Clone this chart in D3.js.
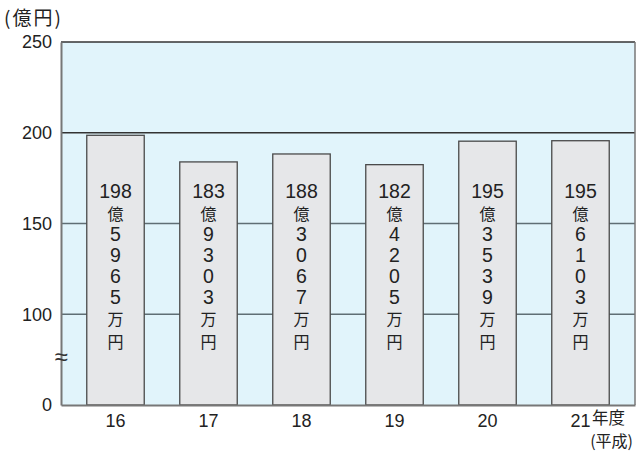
<!DOCTYPE html>
<html><head><meta charset="utf-8">
<script src="https://cdn.jsdelivr.net/npm/d3@7"></script>
<style>body{margin:0;background:#fff}svg{display:block}</style>
</head><body>
<script>
const categories = ["16","17","18","19","20","21"];
const values = [198.5965, 183.9303, 188.3067, 182.4205, 195.3539, 195.6103];
const barLabels = [
  ["198","億","5","9","6","5","万","円"],
  ["183","億","9","3","0","3","万","円"],
  ["188","億","3","0","6","7","万","円"],
  ["182","億","4","2","0","5","万","円"],
  ["195","億","3","5","3","9","万","円"],
  ["195","億","6","1","0","3","万","円"]
];
const yTicks = [50,100,150,200,250];
const yTickLabels = ["0","100","150","200","250"];

const W=644,H=452;
const L=61,R=635,T=42,B=405;
const svg=d3.select("body").append("svg").attr("width",W).attr("height",H);
const font="'Liberation Sans', Arial, 'Noto Sans CJK JP', sans-serif";
const narrow="'Liberation Sans Narrow', 'Liberation Sans', 'Noto Sans CJK JP', sans-serif";
const cjk="'Noto Sans CJK JP', sans-serif";

const y=d3.scaleLinear().domain([50,250]).range([B,T]);
const x=d3.scaleBand().domain(categories).range([L,R]).paddingInner(0.382).paddingOuter(0.277);

svg.append("rect").attr("x",L).attr("y",T).attr("width",R-L).attr("height",B-T).attr("fill","#e1f4fb");

// gridlines
[100,150].forEach(v=>{
  svg.append("line").attr("x1",L).attr("x2",R).attr("y1",y(v)).attr("y2",y(v)).attr("stroke","#5f6e74").attr("stroke-width",1.3);
});
svg.append("line").attr("x1",L).attr("x2",R).attr("y1",y(200)).attr("y2",y(200)).attr("stroke","#333").attr("stroke-width",1.3);
svg.append("line").attr("x1",L).attr("x2",R).attr("y1",T).attr("y2",T).attr("stroke","#333").attr("stroke-width",1.5);
svg.append("line").attr("x1",R).attr("x2",R).attr("y1",T).attr("y2",B).attr("stroke","#777").attr("stroke-width",1.5);

// bars
svg.selectAll("rect.bar").data(values).enter().append("rect").attr("class","bar")
  .attr("x",(d,i)=>x(categories[i])).attr("width",x.bandwidth())
  .attr("y",d=>y(d)).attr("height",d=>B-y(d))
  .attr("fill","#e6e7e9").attr("stroke","#4a4a4a").attr("stroke-width",1.3);

// bar labels: horizontal integer part, then a vertical column of single characters
barLabels.forEach((arr,i)=>{
  const cx=x(categories[i])+x.bandwidth()/2;
  svg.append("text").attr("x",cx).attr("y",198).attr("text-anchor","middle")
    .attr("font-family",narrow).attr("font-size",19.5).attr("fill","#222").text(arr[0]);
  const t=svg.append("text").attr("text-anchor","middle").attr("fill","#222")
    .attr("font-family",narrow).attr("font-size",19.5);
  const rest=arr.slice(1);
  rest.forEach((s,j)=>{
    const isCJK=/[億万円]/.test(s);
    const yy=220+j*21+(j===rest.length-1?2:0);
    t.append("tspan").attr("x",cx).attr("y",yy)
      .attr("font-family",isCJK?cjk:narrow)
      .attr("font-size",isCJK?16:19.5).text(s);
  });
});

// axes
const yAxis=svg.append("g").attr("transform",`translate(${L},0)`)
  .call(d3.axisLeft(y).tickValues(yTicks).tickSize(0).tickPadding(9).tickFormat((d,i)=>yTickLabels[i]));
yAxis.select(".domain").attr("stroke","#777").attr("stroke-width",2);
yAxis.selectAll("text").attr("font-family",font).attr("font-size",18).attr("fill","#222");

const xAxis=svg.append("g").attr("transform",`translate(0,${B})`)
  .call(d3.axisBottom(x).tickSize(0).tickPadding(8));
xAxis.select(".domain").attr("stroke","#777").attr("stroke-width",2);
xAxis.selectAll("text").attr("font-family",font).attr("font-size",18).attr("fill","#222").attr("dy","0.8em");

// break mark
svg.append("text").attr("x",L).attr("y",365).attr("text-anchor","middle")
  .attr("font-family",font).attr("font-size",24).attr("fill","#333").text("≈");

// units
svg.append("text").attr("x",592).attr("y",424)
  .attr("font-family",cjk).attr("font-size",16.5).attr("fill","#222").text("年度");
svg.append("text").attr("x",633).attr("y",446.5).attr("text-anchor","end")
  .attr("font-family",cjk).attr("font-size",16).text("(平成)").attr("fill","#222");
svg.append("text").attr("x",4).attr("y",25)
  .attr("font-family",cjk).attr("font-size",19).attr("letter-spacing",2).attr("fill","#222").text("(億円)");
</script>
</body></html>
